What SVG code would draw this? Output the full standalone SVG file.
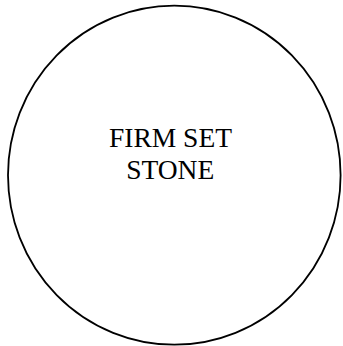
<svg xmlns="http://www.w3.org/2000/svg" width="343" height="346" viewBox="0 0 343 346">
<style>
.n{fill:#fff;stroke:#000;stroke-width:1.8}
.t{font-family:"Liberation Serif","Times New Roman",serif;font-size:27.5px;fill:#000;text-anchor:middle}
</style>
<rect width="343" height="346" fill="#fff"/>
<g id="connectors"></g>
<g id="node-stone">
<ellipse class="n" cx="174.3" cy="175.2" rx="166.3" ry="169.5"/>
<text class="t" x="170.5" y="147">FIRM SET</text>
<text class="t" x="170.2" y="179">STONE</text>
</g>
</svg>
